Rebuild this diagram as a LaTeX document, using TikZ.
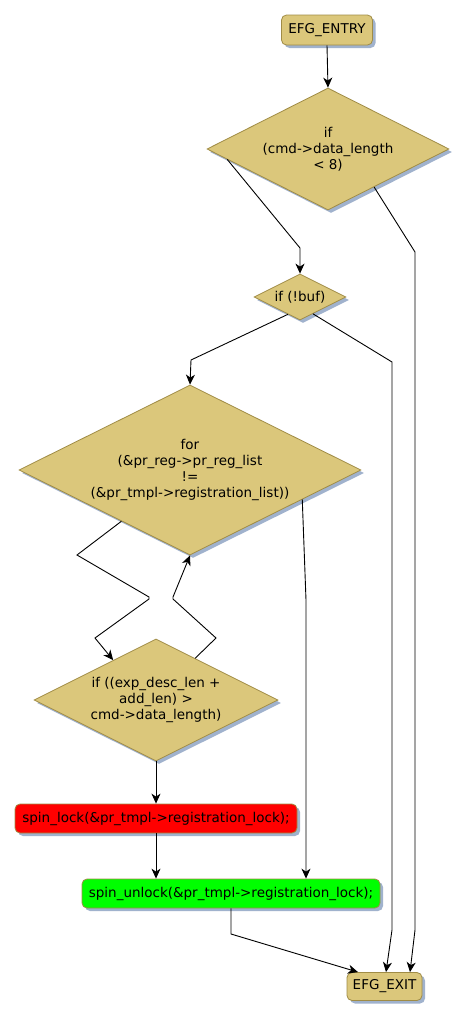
\documentclass[tikz,border=0pt]{standalone}
\usepackage{fontspec}
\setmainfont{DejaVu Sans}
\usetikzlibrary{shapes.geometric,shadows,calc,arrows.meta}
\definecolor{nodefill}{RGB}{219,199,123}
\definecolor{nodeborder}{RGB}{160,140,70}
\definecolor{shadowc}{RGB}{160,178,205}
\definecolor{lockred}{RGB}{255,0,0}
\definecolor{unlockgreen}{RGB}{0,255,0}
\begin{document}
\begin{tikzpicture}[x=1pt,y=-1pt,
  font=\fontsize{13.5}{16}\selectfont,
  base/.style={draw=nodeborder, line width=0.8pt, inner sep=0pt, align=center,
    drop shadow={shadow xshift=3pt, shadow yshift=-3pt, fill=shadowc, opacity=1}},
  term/.style={base, rectangle, rounded corners=5pt, fill=nodefill},
  dia/.style={base, diamond, shape aspect=2, fill=nodefill},
  act/.style={base, rectangle, rounded corners=5pt},
  flow/.style={draw=black, line width=0.9pt, -{Stealth[length=10pt,width=9pt,inset=3pt]}},
  link/.style={draw=black, line width=0.9pt}
]
\useasboundingbox[fill=white] (0,0) rectangle (468,1021);

\node[term, minimum width=91pt, minimum height=30pt] (entry) at (327,30) {EFG\_ENTRY};
\node[dia, minimum width=242pt, minimum height=122pt] (d1) at (328,149) {if\\(cmd->data\_length\\< 8)};
\node[dia, minimum width=92pt, minimum height=46pt] (d2) at (300,297) {if (!buf)};
\node[dia, minimum width=342pt, minimum height=170pt] (loop) at (190,470) {for\\(\&pr\_reg->pr\_reg\_list\\!=\\(\&pr\_tmpl->registration\_list))};
\node[dia, minimum width=244pt, minimum height=122pt] (d4) at (156,700) {if ((exp\_desc\_len +\\add\_len) >\\cmd->data\_length)};
\node[act, fill=lockred, minimum width=282pt, minimum height=29pt] (lock) at (156,818.5) {spin\_lock(\&pr\_tmpl->registration\_lock);};
\node[act, fill=unlockgreen, minimum width=298pt, minimum height=29pt] (unlock) at (231,893.5) {spin\_unlock(\&pr\_tmpl->registration\_lock);};
\node[term, minimum width=75pt, minimum height=28pt] (exit) at (384.5,986.5) {EFG\_EXIT};

\draw[flow] (entry.south) -- (d1.north);
\draw[flow] ($(d1.west)!0.17!(d1.south)$) -- (300,248) -- (d2.north);
\draw[flow] ($(d1.east)!0.62!(d1.south)$) -- (415,252) -- (415,930) -- ([xshift=25.5pt]exit.north);
\draw[flow] ($(d2.west)!0.74!(d2.south)$) -- (191,360) -- (loop.north);
\draw[flow] ($(d2.east)!0.72!(d2.south)$) -- (392,362) -- (392,930) -- ([xshift=1.5pt]exit.north);
\draw[flow] ($(loop.west)!0.6!(loop.south)$) -- (77,555) -- (149,597) -- (149,599) -- (95,638) -- ($(d4.west)!0.65!(d4.north)$);
\draw[flow] ($(d4.north)!0.32!(d4.east)$) -- (216,638) -- (173,599) -- (173,597) -- (loop.south);
\draw[flow] ($(loop.east)!0.345!(loop.south)$) -- (306,600) -- ([xshift=75pt]unlock.north);
\draw[flow] (d4.south) -- (lock.north);
\draw[flow] (lock.south) -- ([xshift=-75pt]unlock.north);
\draw[flow] (unlock.south) -- (231,934) -- ([xshift=-26.5pt]exit.north);
\end{tikzpicture}
\end{document}
